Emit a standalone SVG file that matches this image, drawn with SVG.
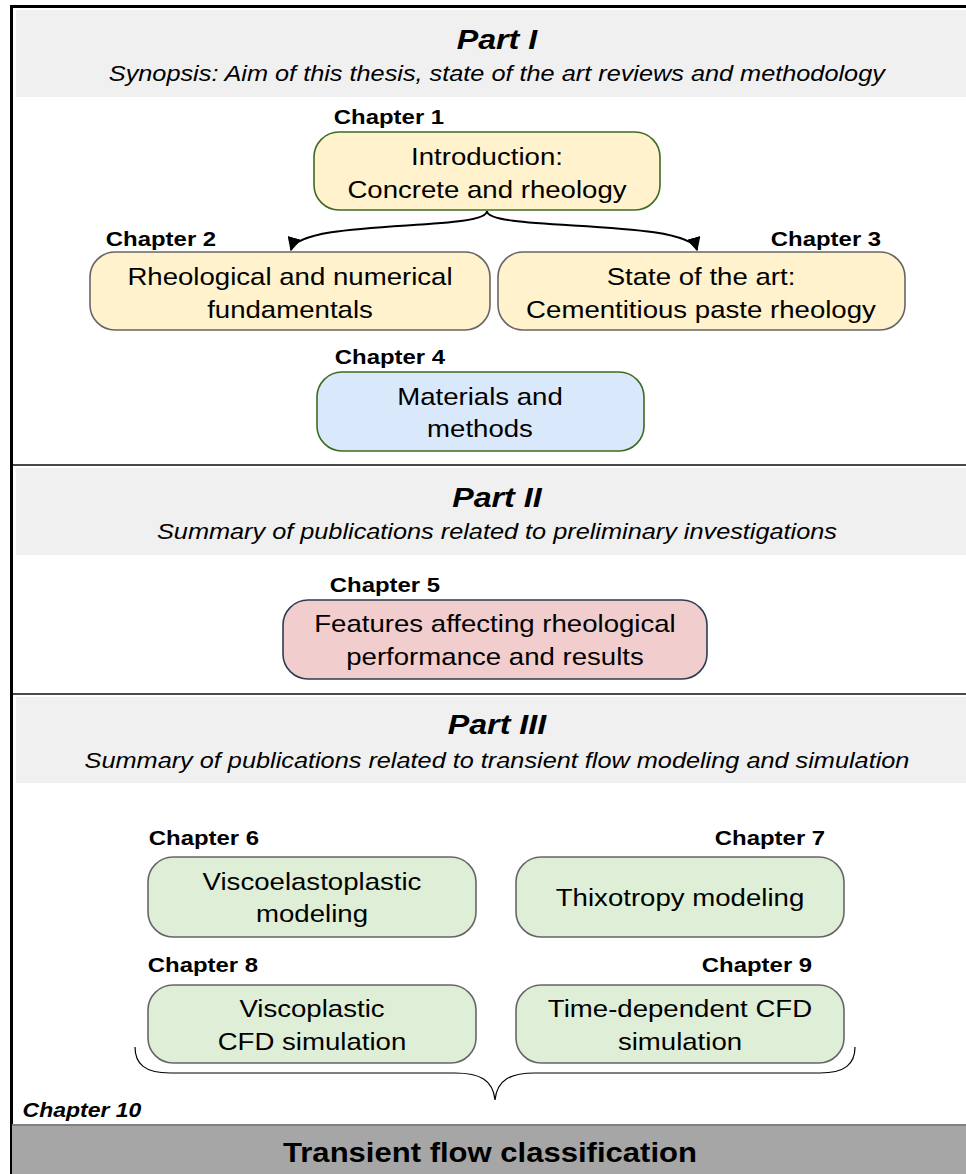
<svg xmlns="http://www.w3.org/2000/svg" width="966" height="1174" viewBox="0 0 966 1174">
<style>
  text { font-family: "Liberation Sans", Arial, sans-serif; fill: #000; text-anchor: middle; transform-box: fill-box; transform-origin: center; transform: scaleX(1.15); }
  .title { font-size: 28px; font-weight: bold; font-style: italic; }
  .sub { font-size: 22px; font-style: italic; }
  .chap { font-size: 20.8px; font-weight: bold; }
  .chap10 { font-size: 20px; font-weight: bold; font-style: italic; }
  .node { font-size: 24px; }
  .final { font-size: 27px; font-weight: bold; }
  .band { fill: #f0f0f0; }
  .divider { stroke: #4a4a4a; stroke-width: 2; fill: none; }
  .box { stroke-width: 1.6; }
  .yellow { fill: #fff2cc; }
  .blue { fill: #dae8fc; }
  .red { fill: #f2cdcd; }
  .green { fill: #dfeed6; stroke: #666; }
  .gstroke { stroke: #3d6b22; }
  .grey { stroke: #666; }
  .navy { stroke: #2b3d55; }
  .edge { stroke: #000; stroke-width: 2; fill: none; }
  .brace { stroke: #000; stroke-width: 1.2; fill: none; }
</style>
<defs>
  <marker id="arrow" viewBox="0 0 10 10" refX="9" refY="5" markerWidth="7" markerHeight="7" orient="auto" markerUnits="strokeWidth">
    <path d="M0,0 L10,5 L0,10 Z" fill="#000"/>
  </marker>
</defs>
<rect x="0" y="0" width="966" height="1174" fill="#fff"/>

<g id="frame">
  <rect class="band" x="16" y="10" width="950" height="87"/>
  <rect class="band" x="16" y="468" width="950" height="87"/>
  <rect class="band" x="16" y="697" width="950" height="86"/>
  <line class="divider" x1="12" y1="465" x2="966" y2="465"/>
  <line class="divider" x1="12" y1="694" x2="966" y2="694"/>
  <line x1="11" y1="6.5" x2="966" y2="6.5" stroke="#000" stroke-width="3"/>
  <line x1="11.5" y1="5" x2="11.5" y2="1174" stroke="#000" stroke-width="3"/>
</g>

<g id="part1">
  <text class="title" x="497" y="49">Part I</text>
  <text class="sub" x="497" y="81">Synopsis: Aim of this thesis, state of the art reviews and methodology</text>
</g>
<g id="part2">
  <text class="title" x="497" y="507">Part II</text>
  <text class="sub" x="497" y="539">Summary of publications related to preliminary investigations</text>
</g>
<g id="part3">
  <text class="title" x="497" y="734">Part III</text>
  <text class="sub" x="497" y="768">Summary of publications related to transient flow modeling and simulation</text>
</g>

<g id="connectors">
  <path class="edge" d="M487,211 C487,232 300,218 291,250" marker-end="url(#arrow)"/>
  <path class="edge" d="M487,211 C487,232 688,218 697,250" marker-end="url(#arrow)"/>
  <path class="brace" d="M135,1047 C135,1064 145,1073 170,1073 L455,1073 C480,1073 493,1080 495,1100 C497,1080 510,1073 535,1073 L820,1073 C845,1073 855,1064 855,1047"/>
</g>

<g id="ch1">
  <text class="chap" x="389" y="124">Chapter 1</text>
  <rect class="box yellow gstroke" x="314" y="132" width="346" height="78" rx="25"/>
  <text class="node" x="487" y="165">Introduction:</text>
  <text class="node" x="487" y="198">Concrete and rheology</text>
</g>
<g id="ch2">
  <text class="chap" x="161" y="246">Chapter 2</text>
  <rect class="box yellow grey" x="90" y="252" width="400" height="78" rx="25"/>
  <text class="node" x="290" y="285">Rheological and numerical</text>
  <text class="node" x="290" y="318">fundamentals</text>
</g>
<g id="ch3">
  <text class="chap" x="826" y="246">Chapter 3</text>
  <rect class="box yellow grey" x="498" y="252" width="407" height="78" rx="25"/>
  <text class="node" x="701" y="285">State of the art:</text>
  <text class="node" x="701" y="318">Cementitious paste rheology</text>
</g>
<g id="ch4">
  <text class="chap" x="390" y="364">Chapter 4</text>
  <rect class="box blue gstroke" x="317" y="372" width="327" height="79" rx="25"/>
  <text class="node" x="480" y="405">Materials and</text>
  <text class="node" x="480" y="437">methods</text>
</g>
<g id="ch5">
  <text class="chap" x="385" y="592">Chapter 5</text>
  <rect class="box red navy" x="283" y="600" width="424" height="79" rx="25"/>
  <text class="node" x="495" y="632">Features affecting rheological</text>
  <text class="node" x="495" y="665">performance and results</text>
</g>
<g id="ch6">
  <text class="chap" x="204" y="845">Chapter 6</text>
  <rect class="box green" x="148" y="857" width="328" height="80" rx="25"/>
  <text class="node" x="312" y="890">Viscoelastoplastic</text>
  <text class="node" x="312" y="922">modeling</text>
</g>
<g id="ch7">
  <text class="chap" x="770" y="845">Chapter 7</text>
  <rect class="box green" x="516" y="857" width="328" height="80" rx="25"/>
  <text class="node" x="680" y="906">Thixotropy modeling</text>
</g>
<g id="ch8">
  <text class="chap" x="203" y="972">Chapter 8</text>
  <rect class="box green" x="148" y="985" width="328" height="78" rx="25"/>
  <text class="node" x="312" y="1017">Viscoplastic</text>
  <text class="node" x="312" y="1050">CFD simulation</text>
</g>
<g id="ch9">
  <text class="chap" x="757" y="972">Chapter 9</text>
  <rect class="box green" x="516" y="985" width="328" height="78" rx="25"/>
  <text class="node" x="680" y="1017">Time-dependent CFD</text>
  <text class="node" x="680" y="1050">simulation</text>
</g>
<g id="ch10">
  <text class="chap10" x="82" y="1117">Chapter 10</text>
  <rect x="12" y="1124" width="954" height="50" fill="#a6a6a6"/>
  <line x1="12" y1="1125" x2="966" y2="1125" stroke="#808080" stroke-width="2"/>
  <text class="final" x="490" y="1162">Transient flow classification</text>
</g>
</svg>
